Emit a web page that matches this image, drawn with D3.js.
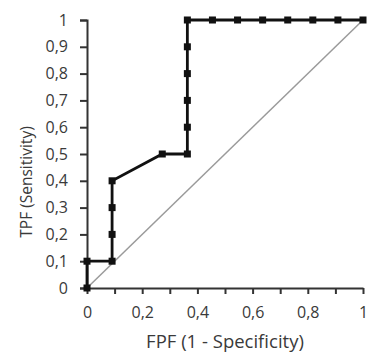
<!DOCTYPE html>
<html>
<head>
<meta charset="utf-8">
<script src="https://cdn.jsdelivr.net/npm/d3@7"></script>
<style>
  html, body { margin: 0; padding: 0; background: #fff; }
  svg text { font-family: "Open Sans", "Noto Sans", sans-serif; fill: #3a3a3a; }
</style>
</head>
<body>
<svg id="chart" width="367" height="356"></svg>
<script>
// ROC curve: false positive fraction vs true positive fraction
const fpf = [0, 0, 1/11, 1/11, 1/11, 1/11, 3/11, 4/11, 4/11, 4/11, 4/11, 4/11, 4/11,
             5/11, 6/11, 7/11, 8/11, 9/11, 10/11, 1];
const tpf = [0, 0.1, 0.1, 0.2, 0.3, 0.4, 0.5, 0.5, 0.6, 0.7, 0.8, 0.9, 1,
             1, 1, 1, 1, 1, 1, 1];
const xTicks = [0, 0.2, 0.4, 0.6, 0.8, 1];
const xMinorTicks = [0, 0.1, 0.2, 0.3, 0.4, 0.5, 0.6, 0.7, 0.8, 0.9, 1];
const yTicks = [0, 0.1, 0.2, 0.3, 0.4, 0.5, 0.6, 0.7, 0.8, 0.9, 1];
const xTitle = "FPF (1 - Specificity)";
const yTitle = "TPF (Sensitivity)";

const fmt = d => d === 0 || d === 1 ? String(d) : d3.format(".1f")(d).replace(".", ",");

const svg = d3.select("#chart");
const m = { left: 87, right: 363, top: 20, bottom: 288 };

const x = d3.scaleLinear().domain([0, 1]).range([m.left, m.right]);
const y = d3.scaleLinear().domain([0, 1]).range([m.bottom, m.top]);

// reference diagonal
svg.append("line")
  .attr("x1", x(0)).attr("y1", y(0)).attr("x2", x(1)).attr("y2", y(1))
  .attr("stroke", "#9a9a9a").attr("stroke-width", 1.5);

// y axis
const yAxis = svg.append("g").attr("transform", `translate(${m.left},0)`)
  .call(d3.axisLeft(y).tickValues(yTicks).tickFormat(fmt).tickSize(7).tickPadding(12));
yAxis.select(".domain").attr("stroke", "#333").attr("stroke-width", 2);
yAxis.selectAll(".tick line").attr("stroke", "#333").attr("stroke-width", 2);
yAxis.selectAll("text").attr("font-size", 16).attr("fill", "#3a3a3a");

// x axis: minor tick marks every 0.1, labels every 0.2
const xAxisMinor = svg.append("g").attr("transform", `translate(0,${m.bottom})`)
  .call(d3.axisBottom(x).tickValues(xMinorTicks).tickFormat("").tickSize(6).tickSizeOuter(0));
xAxisMinor.select(".domain").attr("stroke", "#333").attr("stroke-width", 2);
xAxisMinor.selectAll(".tick line").attr("stroke", "#333").attr("stroke-width", 2);

const xAxis = svg.append("g").attr("transform", `translate(0,${m.bottom})`)
  .call(d3.axisBottom(x).tickValues(xTicks).tickFormat(fmt).tickSize(0).tickPadding(19));
xAxis.select(".domain").remove();
xAxis.selectAll("text").attr("font-size", 16).attr("fill", "#3a3a3a");

// axis titles
svg.append("text")
  .attr("x", 225).attr("y", 348)
  .attr("text-anchor", "middle").attr("font-size", 18.5)
  .text(xTitle);
svg.append("text")
  .attr("transform", `translate(32,182) rotate(-90)`)
  .attr("text-anchor", "middle").attr("font-size", 15.5)
  .text(yTitle);

// ROC curve
const pts = fpf.map((f, i) => [f, tpf[i]]);
svg.append("path")
  .datum(pts)
  .attr("fill", "none").attr("stroke", "#111").attr("stroke-width", 2.8)
  .attr("stroke-linejoin", "miter")
  .attr("d", d3.line().x(d => x(d[0])).y(d => y(d[1])));

svg.append("g").selectAll("rect")
  .data(pts)
  .join("rect")
  .attr("x", d => x(d[0]) - 3.5).attr("y", d => y(d[1]) - 3.5)
  .attr("width", 7).attr("height", 7)
  .attr("fill", "#111");
</script>
</body>
</html>
